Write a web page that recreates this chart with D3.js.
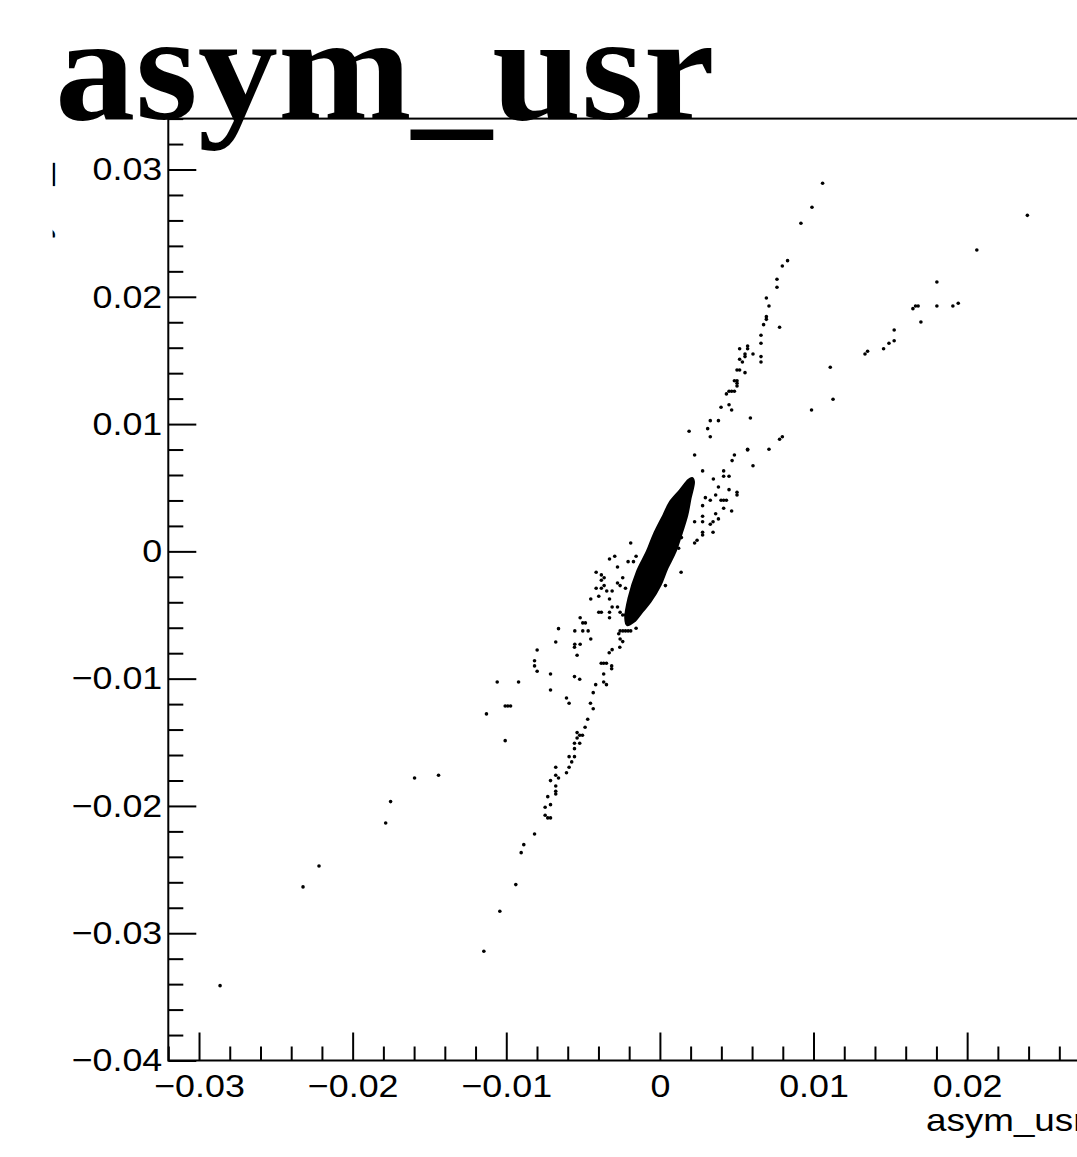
<!DOCTYPE html>
<html>
<head>
<meta charset="utf-8">
<script src="https://cdn.jsdelivr.net/npm/d3@7"></script>
<style>
    body { margin: 0; background: #fff; }
    svg { display: block; }
</style>
</head>
<body>
<svg id="drawing_region"></svg>
<script>
// tick labels
const xTicks = [-0.03, -0.02, -0.01, 0, 0.01, 0.02, 0.03];
const yTicks = [-0.04, -0.03, -0.02, -0.01, 0, 0.01, 0.02, 0.03];

// sparse points on the upper arms  [asym_usr, asym_usl]
const upperPoints = [
    [0.01059,0.02892],[0.00990,0.02703],[0.00918,0.02578],[0.02392,0.02640],[0.00831,0.02284],[0.00797,0.02242],
    [0.02063,0.02368],[0.00762,0.02138],[0.00762,0.02075],[0.01803,0.02116],[0.00693,0.01991],[0.00710,0.01928],
    [0.00693,0.01844],[0.00693,0.01823],[0.00675,0.01781],[0.00779,0.01761],[0.00658,0.01698],[0.00658,0.01635],
    [0.01647,0.01907],[0.01664,0.01928],[0.01681,0.01928],[0.01803,0.01928],[0.01907,0.01928],[0.01942,0.01949],
    [0.01699,0.01802],[0.01525,0.01739],[0.01525,0.01655],[0.01491,0.01635],[0.01456,0.01592],[0.01352,0.01572],
    [0.01335,0.01551],[0.00519,0.01592],[0.00571,0.01614],[0.00571,0.01592],[0.00606,0.01551],[0.00554,0.01551],
    [0.00554,0.01530],[0.00658,0.01530],[0.00658,0.01488],[0.00519,0.01509],[0.00537,0.01488],[0.00502,0.01425],
    [0.00519,0.01425],[0.00554,0.01404],[0.01109,0.01446],[0.00485,0.01341],[0.00502,0.01341],[0.00502,0.01321],
    [0.00502,0.01299],[0.00433,0.01237],[0.00450,0.01258],[0.00467,0.01258],[0.00485,0.01258],[0.01127,0.01195],
    [0.00398,0.01132],[0.00450,0.01152],[0.00467,0.01111],[0.00987,0.01111],[0.00589,0.01048],[0.00328,0.01027],
    [0.00381,0.01027],[0.00190,0.00944],[0.00311,0.00964],[0.00328,0.00901],[0.00779,0.00881],[0.00797,0.00901],
    [0.00571,0.00802],[0.00710,0.00802]
];

// points scattered around the dense core
const haloPoints = [
    [0.00226,0.00757],[0.00485,0.00757],[0.00470,0.00713],[0.00571,0.00797],[0.00606,0.00673],[0.00278,0.00632],
    [0.00415,0.00632],[0.00415,0.00590],[0.00450,0.00590],[0.00348,0.00569],[0.00381,0.00506],[0.00450,0.00485],
    [0.00502,0.00464],[0.00502,0.00443],[0.00296,0.00422],[0.00363,0.00443],[0.00328,0.00401],[0.00398,0.00401],
    [0.00415,0.00401],[0.00433,0.00401],[0.00278,0.00359],[0.00415,0.00339],[0.00467,0.00317],[0.00363,0.00296],
    [0.00278,0.00276],[0.00278,0.00233],[0.00381,0.00255],[0.00346,0.00233],[0.00328,0.00213],[0.00226,0.00233],
    [0.00346,0.00150],[0.00278,0.00150],[0.00278,0.00129],[0.00242,0.00087],[0.00226,0.00066],[0.00140,0.00108],
    [0.00122,0.00024],[0.00138,-0.00164],[0.00036,-0.00269],
    [-0.00190,0.00066],[-0.00294,-0.00038],[-0.00328,-0.00060],[-0.00207,-0.00081],[-0.00172,-0.00081],
    [-0.00155,-0.00038],[-0.00276,-0.00123],[-0.00415,-0.00164],[-0.00381,-0.00185],[-0.00363,-0.00207],
    [-0.00381,-0.00227],[-0.00242,-0.00207],[-0.00276,-0.00248],[-0.00259,-0.00269],[-0.00415,-0.00290],
    [-0.00381,-0.00290],[-0.00363,-0.00269],[-0.00346,-0.00311],[-0.00311,-0.00311],[-0.00224,-0.00290],
    [-0.00398,-0.00353],[-0.00450,-0.00374],[-0.00328,-0.00374],[-0.00311,-0.00437],[-0.00276,-0.00437],
    [-0.00398,-0.00478],[-0.00381,-0.00478],[-0.00328,-0.00478],[-0.00259,-0.00478],[-0.00242,-0.00500],
    [-0.00224,-0.00500],[-0.00519,-0.00521],[-0.00502,-0.00562],[-0.00485,-0.00562],[-0.00328,-0.00521],
    [-0.00155,-0.00604],[-0.00554,-0.00625],[-0.00502,-0.00625],[-0.00467,-0.00625],[-0.00259,-0.00625],
    [-0.00241,-0.00625],[-0.00224,-0.00625],[-0.00207,-0.00625],[-0.00190,-0.00625],[-0.00268,-0.00647],
    [-0.00450,-0.00688],[-0.00554,-0.00730],[-0.00519,-0.00730],[-0.00259,-0.00688],[-0.00242,-0.00709],
    [-0.00311,-0.00772]
];

// sparse points on the lower arms
const lowerPoints = [
    [-0.00660,-0.00607],[-0.00678,-0.00712],[-0.00556,-0.00753],[-0.00799,-0.00775],[-0.00539,-0.00816],
    [-0.00816,-0.00859],[-0.00816,-0.00900],[-0.00799,-0.00942],[-0.00712,-0.00963],[-0.00556,-0.00984],
    [-0.00522,-0.01005],[-0.01059,-0.01026],[-0.00920,-0.01026],[-0.00712,-0.01089],[-0.00608,-0.01152],
    [-0.00591,-0.01193],[-0.01007,-0.01215],[-0.00990,-0.01215],[-0.00972,-0.01215],[-0.01129,-0.01277],
    [-0.01007,-0.01487],[-0.01597,-0.01780],[-0.01441,-0.01759],
    [-0.00330,-0.00796],[-0.00261,-0.00753],[-0.00382,-0.00879],[-0.00366,-0.00879],[-0.00348,-0.00879],
    [-0.00314,-0.00900],[-0.00314,-0.00922],[-0.00366,-0.00963],[-0.00366,-0.01026],[-0.00348,-0.01047],
    [-0.00418,-0.01047],[-0.00434,-0.01110],[-0.00452,-0.01193],[-0.00434,-0.01236],[-0.00470,-0.01319],
    [-0.00487,-0.01382],[-0.00539,-0.01424],[-0.00539,-0.01466],[-0.00522,-0.01445],[-0.00504,-0.01445],
    [-0.00556,-0.01508],[-0.00522,-0.01508],[-0.00556,-0.01550],[-0.00591,-0.01613],[-0.00556,-0.01613],
    [-0.00574,-0.01654],[-0.00591,-0.01696],[-0.00678,-0.01696],[-0.00608,-0.01739],[-0.00678,-0.01759],
    [-0.00660,-0.01780],[-0.00712,-0.01801],[-0.00678,-0.01843],[-0.00678,-0.01885],[-0.00678,-0.01906],
    [-0.00730,-0.01927],[-0.00747,-0.02010],[-0.00712,-0.01990],[-0.00747,-0.02073],[-0.00730,-0.02094],
    [-0.00712,-0.02094],[-0.00816,-0.02220],[-0.00886,-0.02304],[-0.00903,-0.02367],[-0.00938,-0.02618],
    [-0.01042,-0.02827],[-0.01146,-0.03142],
    [-0.01753,-0.01966],[-0.01785,-0.02134],[-0.02219,-0.02472],[-0.02323,-0.02636],[-0.02863,-0.03412]
];

// outline of the dense (saturated) core
const coreOutline = [
    [0.00209,0.00574],[0.00220,0.00548],[0.00198,0.00417],[0.00177,0.00286],[0.00144,0.00155],[0.00101,0.0],
    [0.00047,-0.00133],[0.00003,-0.00264],[-0.00062,-0.00395],[-0.00116,-0.00474],[-0.00170,-0.00552],
    [-0.00213,-0.00578],[-0.00224,-0.00526],[-0.00203,-0.00368],[-0.00148,-0.00159],[-0.00083,0.0],
    [-0.00040,0.00129],[0.00025,0.00286],[0.00068,0.00390],[0.00133,0.00482],[0.00187,0.00561]
];

const width = 1077, height = 1157;
const frame = { left: 168.3, top: 118.6, right: 1151.5, bottom: 1060.5 };
const labelFont = '"Liberation Sans", Arial, Helvetica, sans-serif';

const svg = d3.select('#drawing_region')
    .attr('width', width)
    .attr('height', height);

// pad clipping: nothing is drawn left of the pad edge
svg.append('defs').append('clipPath').attr('id', 'pad')
    .append('rect').attr('x', 52.6).attr('y', 0).attr('width', width).attr('height', height);

const xscale = d3.scaleLinear().domain([-0.032, 0.032]).range([frame.left, frame.right]);
const yscale = d3.scaleLinear().domain([-0.04, 0.034]).range([frame.bottom, frame.top]);

const fmt = d => d === 0 ? '0' : d3.format('.2f')(d);

// minor ticks every 0.002
const xMinor = d3.range(-0.032, 0.0321, 0.002).filter(v => Math.abs(Math.round(v * 100) - v * 100) > 1e-6);
const yMinor = d3.range(-0.04, 0.0341, 0.002).filter(v => Math.abs(Math.round(v * 100) - v * 100) > 1e-6);

const g = svg.append('g');

// x axis
g.append('g')
    .attr('transform', `translate(0, ${frame.bottom})`)
    .call(d3.axisBottom(xscale).tickValues(xMinor).tickSize(-14).tickFormat(''));
g.append('g')
    .attr('class', 'xaxis')
    .attr('transform', `translate(0, ${frame.bottom})`)
    .call(d3.axisBottom(xscale).tickValues(xTicks).tickSize(-28).tickPadding(14).tickFormat(fmt));

// y axis
g.append('g')
    .attr('transform', `translate(${frame.left}, 0)`)
    .call(d3.axisLeft(yscale).tickValues(yMinor).tickSize(-15).tickFormat(''));
g.append('g')
    .attr('class', 'yaxis')
    .attr('transform', `translate(${frame.left}, 0)`)
    .call(d3.axisLeft(yscale).tickValues(yTicks).tickSize(-28).tickPadding(6).tickFormat(fmt));

g.selectAll('.domain').remove();
g.selectAll('.tick line').attr('stroke', '#000').attr('stroke-width', 2);
g.selectAll('.tick text')
    .attr('fill', '#000')
    .style('font-family', labelFont)
    .style('font-size', '32px');
g.selectAll('.xaxis .tick text').attr('transform', 'scale(1.12,1)');
g.selectAll('.yaxis .tick text').attr('x', -6 / 1.12).attr('transform', 'scale(1.12,1)');

// frame
svg.append('rect')
    .attr('x', frame.left).attr('y', frame.top)
    .attr('width', frame.right - frame.left).attr('height', frame.bottom - frame.top)
    .attr('fill', 'none').attr('stroke', '#000').attr('stroke-width', 2);

// dense core
const line = d3.line()
    .x(d => xscale(d[0]))
    .y(d => yscale(d[1]))
    .curve(d3.curveCatmullRomClosed.alpha(0.5));
svg.append('path')
    .attr('d', line(coreOutline))
    .attr('fill', '#000')
    .attr('stroke', '#000')
    .attr('stroke-width', 2.5);

// scattered points
const points = upperPoints.concat(haloPoints, lowerPoints);
svg.append('g').selectAll('circle').data(points)
    .join('circle')
    .attr('cx', d => xscale(d[0]))
    .attr('cy', d => yscale(d[1]))
    .attr('r', 1.8)
    .attr('fill', '#000');

// axis titles
svg.append('text')
    .attr('transform', 'translate(926, 1131) scale(1.15,1)')
    .style('font-family', labelFont)
    .style('font-size', '32px')
    .text('asym_usr');
svg.append('g')
    .attr('clip-path', 'url(#pad)')
    .append('text')
    .attr('transform', 'translate(46.5, 112) rotate(-90)')
    .attr('text-anchor', 'end')
    .style('font-family', labelFont)
    .style('font-size', '40px')
    .text('asym_usl');

// title
svg.append('text')
    .attr('transform', 'translate(55, 118.5) scale(1.07,1)')
    .style('font-family', '"Liberation Serif", "Times New Roman", serif')
    .style('font-weight', 'bold')
    .style('font-size', '150px')
    .text('asym_usr');
</script>
</body>
</html>
